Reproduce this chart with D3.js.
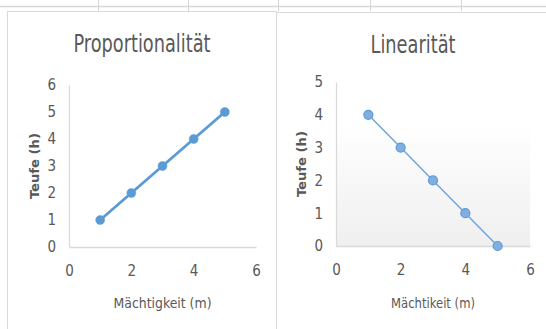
<!DOCTYPE html>
<html>
<head>
<meta charset="utf-8">
<script src="https://cdn.jsdelivr.net/npm/d3@7"></script>
<style>
  html, body { margin: 0; padding: 0; background: #fff; }
  svg { display: block; }
  text { font-family: "DejaVu Sans Condensed", "DejaVu Sans", sans-serif; font-stretch: condensed; fill: #595959; }
</style>
</head>
<body>
<svg id="c" width="546" height="329"></svg>
<script>
// Shared x values (Mächtigkeit) and the two series (Teufe)
const xValues = [1, 2, 3, 4, 5];
const propValues = [1, 2, 3, 4, 5];
const linValues = [4, 3, 2, 1, 0];
const xTicks = [0, 2, 4, 6];
const propYTicks = [0, 1, 2, 3, 4, 5, 6];
const linYTicks = [0, 1, 2, 3, 4, 5];

const svg = d3.select("#c");
const gridColor = "#d6d6d6";
const axisColor = "#d9d9d9";
const blue = "#5B9BD5";
const fontStack = '"DejaVu Sans Condensed", "DejaVu Sans", sans-serif';

// Worksheet cell lines behind the charts
svg.append("line").attr("x1", 0).attr("x2", 546).attr("y1", 6.5).attr("y2", 6.5)
  .attr("stroke", gridColor).attr("stroke-width", 1.5);
[98, 188, 278, 370, 461].forEach(x => {
  svg.append("line").attr("x1", x + 0.5).attr("x2", x + 0.5).attr("y1", 0).attr("y2", 11)
    .attr("stroke", gridColor);
});

// Chart frames
svg.append("rect").attr("x", 7.5).attr("y", 11.5).attr("width", 269).attr("height", 330)
  .attr("fill", "#fff").attr("stroke", axisColor);
svg.append("rect").attr("x", 276.5).attr("y", 12.5).attr("width", 290).attr("height", 330)
  .attr("fill", "#fff").attr("stroke", axisColor);

// Plot-area gradient of the second chart
const defs = svg.append("defs");
const grad = defs.append("linearGradient").attr("id", "plotGrad")
  .attr("x1", 0).attr("y1", 0).attr("x2", 0).attr("y2", 1);
grad.append("stop").attr("offset", "0%").attr("stop-color", "#ffffff");
grad.append("stop").attr("offset", "25%").attr("stop-color", "#ffffff");
grad.append("stop").attr("offset", "100%").attr("stop-color", "#efefef");

function drawChart(cfg) {
  const x = d3.scaleLinear().domain([0, 6]).range([cfg.left, cfg.right]);
  const y = d3.scaleLinear().domain([0, cfg.yMax]).range([cfg.bottom, cfg.top]);
  const g = svg.append("g");

  if (cfg.gradient) {
    g.append("rect").attr("x", cfg.left).attr("y", cfg.top)
      .attr("width", cfg.right - cfg.left).attr("height", cfg.bottom - cfg.top)
      .attr("fill", "url(#plotGrad)");
  }

  // Axes drawn by d3, tick marks hidden
  const fmt = d3.format("d");
  const xAxis = g.append("g").attr("transform", `translate(0,${cfg.bottom})`)
    .call(d3.axisBottom(x).tickValues(xTicks).tickFormat(fmt).tickSize(0).tickPadding(18));
  const yAxis = g.append("g").attr("transform", `translate(${cfg.left},0)`)
    .call(d3.axisLeft(y).tickValues(cfg.yTicks).tickFormat(fmt).tickSize(0).tickPadding(cfg.yPad));
  [xAxis, yAxis].forEach(a => {
    a.select(".domain").attr("stroke", axisColor).attr("stroke-width", 1.3);
    a.selectAll("text").attr("font-size", 15).attr("fill", "#595959")
      .attr("font-family", fontStack).style("font-stretch", "condensed");
  });

  // Titles
  g.append("text").attr("x", cfg.titleX).attr("y", cfg.titleY)
    .attr("text-anchor", "middle").attr("font-size", 24)
    .attr("textLength", cfg.titleLen).attr("lengthAdjust", "spacingAndGlyphs")
    .text(cfg.title);
  g.append("text").attr("x", (cfg.left + cfg.right) / 2).attr("y", 308)
    .attr("text-anchor", "middle").attr("font-size", 14)
    .attr("textLength", cfg.xTitleLen).attr("lengthAdjust", "spacingAndGlyphs")
    .text(cfg.xTitle);
  g.append("text")
    .attr("transform", `translate(${cfg.yTitleX},${(cfg.top + cfg.bottom) / 2}) rotate(-90)`)
    .attr("text-anchor", "middle").attr("font-size", 13).attr("font-weight", "bold")
    .attr("textLength", 66).attr("lengthAdjust", "spacingAndGlyphs")
    .text("Teufe (h)");

  const pts = xValues.map((v, i) => [v, cfg.values[i]]);
  const line = d3.line().x(d => x(d[0])).y(d => y(d[1]));
  g.append("path").datum(pts).attr("d", line).attr("fill", "none")
    .attr("stroke", cfg.lineColor).attr("stroke-width", cfg.lineWidth)
    .attr("stroke-linejoin", "round");
  g.selectAll("circle.m").data(pts).join("circle").attr("class", "m")
    .attr("cx", d => x(d[0])).attr("cy", d => y(d[1])).attr("r", cfg.r)
    .attr("fill", cfg.markerFill).attr("stroke", cfg.markerStroke)
    .attr("stroke-width", cfg.markerStrokeW);
}

drawChart({
  left: 69, right: 256, top: 85, bottom: 247, yMax: 6, yTicks: propYTicks, yPad: 13,
  title: "Proportionalität", titleX: 142, titleY: 52, titleLen: 137,
  xTitle: "Mächtigkeit (m)", xTitleLen: 98, yTitleX: 39,
  values: propValues, lineColor: blue, lineWidth: 2.8, r: 4.5,
  markerFill: blue, markerStroke: blue, markerStrokeW: 0.5, gradient: false
});

drawChart({
  left: 336, right: 530, top: 82, bottom: 246, yMax: 5, yTicks: linYTicks, yPad: 13,
  title: "Linearität", titleX: 413, titleY: 53, titleLen: 85,
  xTitle: "Mächtikeit (m)", xTitleLen: 84, yTitleX: 306,
  values: linValues, lineColor: "#6ba3dc", lineWidth: 1.4, r: 4.5,
  markerFill: "#7fafe2", markerStroke: blue, markerStrokeW: 1.2, gradient: true
});
</script>
</body>
</html>
